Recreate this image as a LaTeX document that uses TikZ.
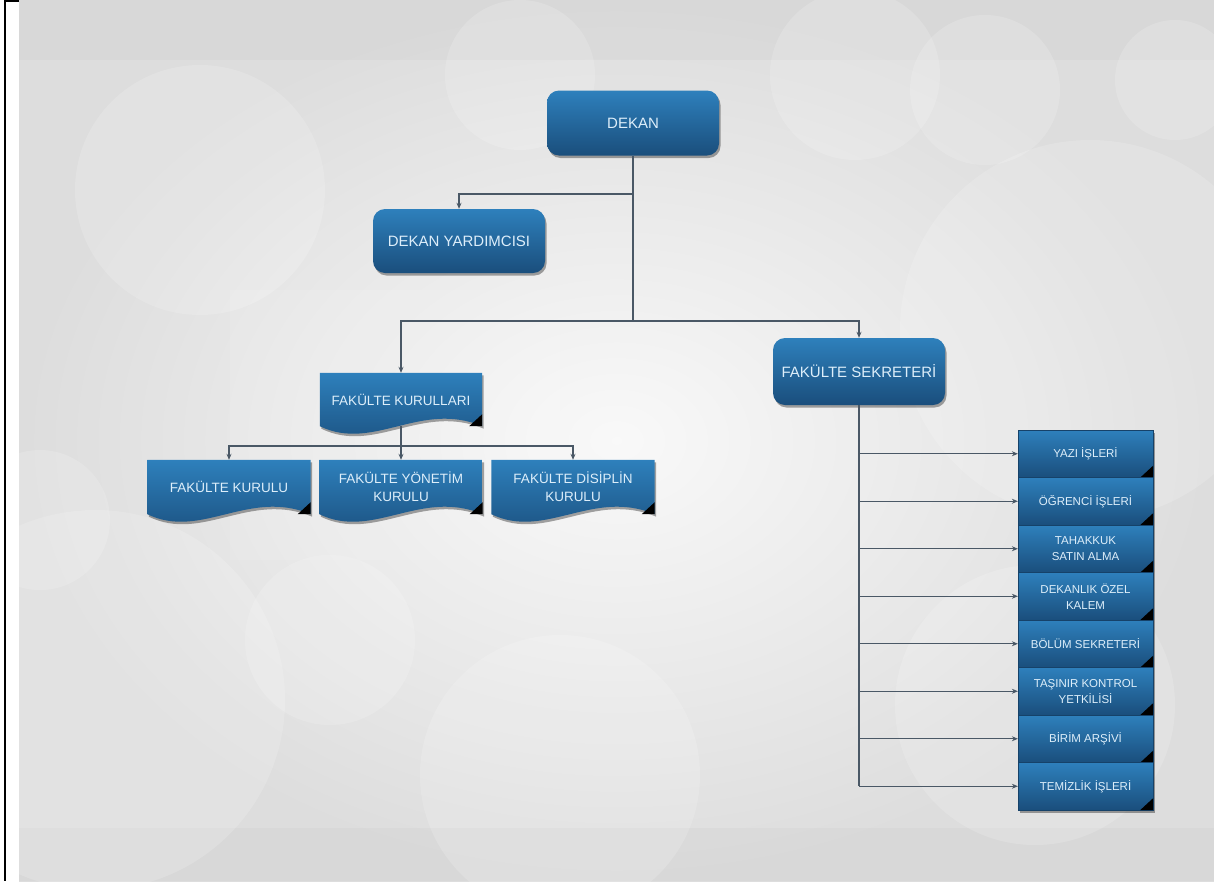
\documentclass[tikz,border=0pt]{standalone}
\usepackage{fontspec}
\setmainfont{Liberation Sans}
\usetikzlibrary{positioning,arrows.meta,shadows,calc}
\definecolor{boxtop}{HTML}{2E80BC}
\definecolor{boxbot}{HTML}{1A4E7C}
\definecolor{boxtext}{HTML}{DDEEFA}
\definecolor{linecol}{HTML}{4A5866}
\definecolor{bgbase}{HTML}{E6E6E6}
\definecolor{bgband}{HTML}{D4D4D4}
\pgfdeclarelayer{back}
\pgfdeclarelayer{shapes}
\pgfsetlayers{back,shapes,main}

\begin{document}
\begin{tikzpicture}[x=1pt, y=-1pt,
    boxshadow/.style={drop shadow={shadow xshift=1.5pt, shadow yshift=-2.5pt, opacity=0.35, fill=black}},
    mainbox/.style={rectangle, rounded corners=12pt, top color=boxtop, bottom color=boxbot,
        minimum width=172pt, minimum height=65pt, text=boxtext, font=\fontsize{15}{18}\selectfont, boxshadow},
    docbox/.style={rectangle, minimum width=163pt, minimum height=54pt, align=center,
        text=boxtext, font=\fontsize{13.5}{18}\selectfont},
    listbox/.style={rectangle, top color=boxtop, bottom color=boxbot, draw=boxbot!85!black, line width=0.3pt,
        minimum width=135pt, minimum height=47.5pt, align=center, text=boxtext,
        font=\fontsize{11.5}{16}\selectfont},
    line/.style={draw=linecol, line width=1.2pt},
    conn/.style={line, -{Stealth[length=6pt, width=5pt]}}
]
\useasboundingbox (0,0) rectangle (1214,881);

% background
\begin{pgfonlayer}{back}
\fill[white] (0,0) rectangle (1214,881);
\fill[inner color=white!75!bgbase, outer color=bgbase!96!black] (19,0) rectangle (1214,881);
\fill[bgband, opacity=0.45] (19,0) rectangle (1214,60);
\fill[bgband, opacity=0.45] (19,828) rectangle (1214,881);
\begin{scope}[fill=white, opacity=0.16]
\fill (200,190) circle (125);
\fill (520,75) circle (75);
\fill (855,75) circle (85);
\fill (985,90) circle (75);
\fill (1175,80) circle (60);
\fill (1090,330) circle (190);
\fill (95,700) circle (190);
\fill (560,775) circle (140);
\fill (1035,705) circle (140);
\fill (330,640) circle (85);
\fill (40,520) circle (70);
\end{scope}
\fill[white, opacity=0.1] (230,290) rectangle (560,560);
\fill[black] (4,0) rectangle (6,881);
\fill[black] (4,0) rectangle (19,1.5);
\end{pgfonlayer}

% top of the chart
\node[mainbox] (dekan) at (633,123) {DEKAN};
\node[mainbox, minimum height=64pt] (yard) at (459,241) {DEKAN YARDIMCISI};
\node[mainbox, minimum height=67pt] (sek) at (859,371.5) {FAKÜLTE SEKRETERİ};

% boards
\node[docbox, minimum width=162pt, minimum height=53pt] (kurullar) at (401,399.5) {FAKÜLTE KURULLARI};
\node[docbox] (kurulu) at (229,487) {FAKÜLTE KURULU};
\node[docbox] (yonetim) at (401,487) {FAKÜLTE YÖNETİM\\KURULU};
\node[docbox] (disiplin) at (573,487) {FAKÜLTE DİSİPLİN\\KURULU};

\begin{pgfonlayer}{shapes}
\foreach \n in {kurullar,kurulu,yonetim,disiplin}{
  \shade[top color=boxtop, bottom color=boxbot, boxshadow]
    (\n.north west) -- (\n.north east) -- (\n.south east)
    .. controls ($(\n.south west)!0.62!(\n.south east)+(0,-26)$)
    and ($(\n.south west)!0.33!(\n.south east)+(0,26)$) .. (\n.south west) -- cycle;
  \fill[black] (\n.south east) -- ++(-13,0) -- ++(13,-12) -- cycle;
}
\end{pgfonlayer}

% offices
\foreach \name/\txt [count=\i] in {yazi/YAZI İŞLERİ, ogrenci/ÖĞRENCİ İŞLERİ,
    tahakkuk/{TAHAKKUK\\SATIN ALMA}, ozel/{DEKANLIK ÖZEL\\KALEM}, bolum/BÖLÜM SEKRETERİ,
    tasinir/{TAŞINIR KONTROL\\YETKİLİSİ}, arsiv/BİRİM ARŞİVİ, temizlik/TEMİZLİK İŞLERİ}{
  \node[listbox, boxshadow] (\name) at (1085.5,{430+47.5*(\i-0.5)}) {\txt};
  \fill[black] (\name.south east) -- ++(-13,0) -- ++(13,-12) -- cycle;
}

% connectors
\coordinate (j1) at (633,194);
\coordinate (j2) at (633,321);
\coordinate (j3) at (401,446);
\draw[line] (dekan) -- (j2);
\draw[conn] (j1) -| (yard);
\draw[conn] (j2) -| (kurullar);
\draw[conn] (j2) -| (sek);
\draw[line] (kurullar.south) -- (j3);
\draw[conn] (j3) -| (kurulu);
\draw[conn] (j3) -- (yonetim);
\draw[conn] (j3) -| (disiplin);
\draw[line] (sek) -- (sek |- temizlik);
\foreach \name in {yazi,ogrenci,tahakkuk,ozel,bolum,tasinir,arsiv,temizlik}
  \draw[conn] (sek |- \name) -- (\name);
\end{tikzpicture}
\end{document}
